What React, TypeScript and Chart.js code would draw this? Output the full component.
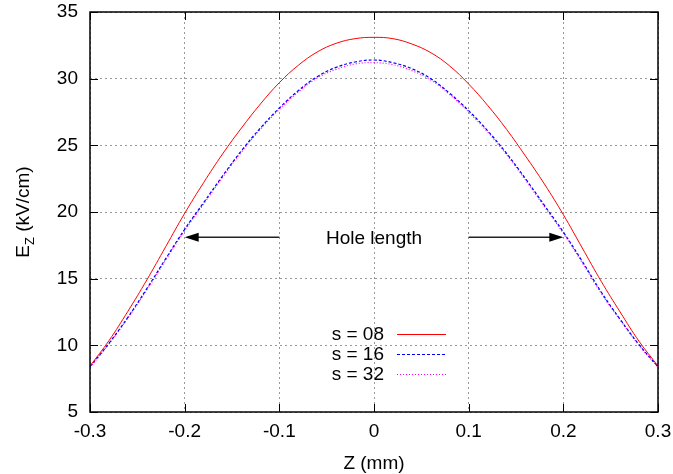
import React, { useEffect, useRef } from "react";
import { Chart, registerables } from "chart.js";

Chart.register(...registerables);

const zValues = [
  -0.3, -0.28, -0.26, -0.24, -0.22, -0.2, -0.18, -0.16, -0.14, -0.12, -0.1, -0.08, -0.06, -0.04, -0.02, 0,
  0.02, 0.04, 0.06, 0.08, 0.1, 0.12, 0.14, 0.16, 0.18, 0.2, 0.22, 0.24, 0.26, 0.28, 0.3,
];
const s08 = [
  8.45, 10.35, 12.55, 14.9, 17.4, 19.9, 22.2, 24.35, 26.3, 28.1, 29.7, 31.0, 32.0, 32.65, 33.0, 33.1,
  33.0, 32.6, 31.95, 30.95, 29.6, 28.0, 26.2, 24.2, 22.1, 19.8, 17.3, 14.8, 12.5, 10.3, 8.45,
];
const s16 = [
  8.4, 10.15, 12.1, 14.25, 16.5, 18.7, 20.7, 22.7, 24.6, 26.3, 27.8, 29.1, 30.15, 30.85, 31.25, 31.4,
  31.2, 30.75, 30.0, 28.9, 27.6, 26.1, 24.4, 22.5, 20.5, 18.5, 16.3, 14.0, 11.95, 10.05, 8.4,
];
const s32 = [
  8.35, 10.1, 12.05, 14.15, 16.4, 18.6, 20.6, 22.6, 24.5, 26.2, 27.7, 29.0, 30.05, 30.7, 31.1, 31.2,
  31.05, 30.6, 29.9, 28.8, 27.5, 26.0, 24.3, 22.4, 20.4, 18.4, 16.2, 13.9, 11.9, 10.0, 8.35,
];
const seriesLabels = ["s = 08", "s = 16", "s = 32"];
const xTicks = [-0.3, -0.2, -0.1, 0, 0.1, 0.2, 0.3];
const yTicks = [5, 10, 15, 20, 25, 30, 35];
const holeLabel = "Hole length";
const arrowY = 18.1;
const leftArrow = [-0.1, -0.2];
const rightArrow = [0.1, 0.2];
const xTitle = "Z (mm)";

const FONT = "'Liberation Sans', Arial, sans-serif";
const FS = 19;

const overlay = {
  id: "overlay",
  afterDatasetsDraw(chart: any) {
    const { ctx, chartArea: a, scales } = chart;
    const xs = scales.x;
    const ys = scales.y;
    ctx.save();
    // inner ticks
    ctx.strokeStyle = "#000";
    ctx.lineWidth = 1;
    ctx.setLineDash([]);
    ctx.beginPath();
    for (const v of yTicks) {
      const y = Math.round(ys.getPixelForValue(v)) + 0.5;
      ctx.moveTo(a.left, y);
      ctx.lineTo(a.left + 8, y);
      ctx.moveTo(a.right, y);
      ctx.lineTo(a.right - 8, y);
    }
    for (const v of xTicks) {
      const x = Math.round(xs.getPixelForValue(v)) + 0.5;
      ctx.moveTo(x, a.bottom);
      ctx.lineTo(x, a.bottom - 8);
      ctx.moveTo(x, a.top);
      ctx.lineTo(x, a.top + 8);
    }
    ctx.stroke();
    // border
    ctx.lineWidth = 1.5;
    ctx.strokeRect(a.left, a.top, a.right - a.left, a.bottom - a.top);

    // annotation
    const ay = ys.getPixelForValue(arrowY);
    ctx.fillStyle = "#000";
    ctx.font = `${FS}px ${FONT}`;
    ctx.textAlign = "center";
    ctx.textBaseline = "middle";
    ctx.fillText(holeLabel, xs.getPixelForValue(0), ay + 1);
    const drawArrow = (from: number, to: number) => {
      const x0 = xs.getPixelForValue(from);
      const x1 = xs.getPixelForValue(to);
      const dir = Math.sign(x1 - x0);
      ctx.strokeStyle = "#222";
      ctx.lineWidth = 1.5;
      ctx.beginPath();
      ctx.moveTo(x0, ay);
      ctx.lineTo(x1 - dir * 10, ay);
      ctx.stroke();
      ctx.fillStyle = "#000";
      ctx.beginPath();
      ctx.moveTo(x1, ay);
      ctx.lineTo(x1 - dir * 14, ay - 4.5);
      ctx.lineTo(x1 - dir * 14, ay + 4.5);
      ctx.closePath();
      ctx.fill();
    };
    drawArrow(leftArrow[0], leftArrow[1]);
    drawArrow(rightArrow[0], rightArrow[1]);

    // legend
    const ds = chart.data.datasets;
    const textRight = 384;
    const lineStart = 397;
    const lineEnd = 446;
    const top = 334;
    ctx.font = `${FS}px ${FONT}`;
    ctx.textAlign = "right";
    ds.forEach((d: any, i: number) => {
      const y = top + i * 20;
      ctx.fillStyle = "#000";
      ctx.fillText(d.label, textRight, y + 1);
      ctx.strokeStyle = d.borderColor;
      ctx.lineWidth = d.borderWidth;
      ctx.setLineDash(d.borderDash || []);
      ctx.beginPath();
      ctx.moveTo(lineStart, y + 0.5);
      ctx.lineTo(lineEnd, y + 0.5);
      ctx.stroke();
    });
    ctx.setLineDash([]);

    // axis titles
    ctx.fillStyle = "#000";
    ctx.textAlign = "center";
    ctx.textBaseline = "alphabetic";
    ctx.font = `${FS}px ${FONT}`;
    ctx.fillText(xTitle, (a.left + a.right) / 2, 469);

    ctx.translate(29, (a.top + a.bottom) / 2);
    ctx.rotate(-Math.PI / 2);
    const part1 = "E";
    const sub = "Z";
    const part2 = " (kV/cm)";
    ctx.font = `${FS}px ${FONT}`;
    const w1 = ctx.measureText(part1).width;
    const w3 = ctx.measureText(part2).width;
    ctx.font = `13px ${FONT}`;
    const w2 = ctx.measureText(sub).width;
    const total = w1 + w2 + w3;
    let x = -total / 2;
    ctx.textAlign = "left";
    ctx.font = `${FS}px ${FONT}`;
    ctx.fillText(part1, x, 0);
    x += w1;
    ctx.font = `13px ${FONT}`;
    ctx.fillText(sub, x, 5);
    x += w2;
    ctx.font = `${FS}px ${FONT}`;
    ctx.fillText(part2, x, 0);
    ctx.restore();
  },
};

function toPoints(vals: number[]) {
  return zValues.map((z, i) => ({ x: z, y: vals[i] }));
}

export default function App() {
  const ref = useRef<HTMLCanvasElement | null>(null);
  useEffect(() => {
    if (!ref.current) return;
    const chart = new Chart(ref.current, {
      type: "line",
      data: {
        datasets: [
          { label: seriesLabels[0], data: toPoints(s08), borderColor: "#ff0000", borderWidth: 1, pointRadius: 0, tension: 0.4, fill: false },
          { label: seriesLabels[1], data: toPoints(s16), borderColor: "#0000ff", borderWidth: 1.2, borderDash: [3, 2], pointRadius: 0, tension: 0.4, fill: false },
          { label: seriesLabels[2], data: toPoints(s32), borderColor: "#ff00ff", borderWidth: 1.2, borderDash: [1, 2], pointRadius: 0, tension: 0.4, fill: false },
        ],
      },
      options: {
        animation: false,
        responsive: false,
        maintainAspectRatio: false,
        layout: { padding: { top: 12, right: 15, left: 0, bottom: 0 } },
        plugins: { legend: { display: false }, tooltip: { enabled: false } },
        scales: {
          x: {
            type: "linear",
            min: -0.3,
            max: 0.3,
            afterBuildTicks: (s: any) => {
              s.ticks = xTicks.map((v) => ({ value: v }));
            },
            afterFit: (s: any) => {
              s.height = 62;
              s.paddingLeft = 0;
              s.paddingRight = 0;
            },
            ticks: {
              color: "#000",
              font: { family: FONT, size: FS },
              padding: 8,
              maxRotation: 0,
              callback: (v: any) => String(Number(Number(v).toFixed(1))),
            },
            grid: { color: "#999", drawTicks: false, lineWidth: 1 } as any,
            border: { display: false, dash: [2, 3] } as any,
          },
          y: {
            type: "linear",
            min: 5,
            max: 35,
            afterBuildTicks: (s: any) => {
              s.ticks = yTicks.map((v) => ({ value: v }));
            },
            afterFit: (s: any) => {
              s.width = 90;
              s.paddingTop = 0;
              s.paddingBottom = 0;
            },
            ticks: {
              color: "#000",
              font: { family: FONT, size: FS },
              padding: 12,
            },
            grid: { color: "#999", drawTicks: false, lineWidth: 1 } as any,
            border: { display: false, dash: [2, 3] } as any,
          },
        },
      } as any,
      plugins: [overlay],
    });
    return () => chart.destroy();
  }, []);
  return (
    <div style={{ position: "fixed", left: 0, top: 0, width: 673, height: 474, background: "#fff" }}>
      <canvas ref={ref} width={673} height={474} style={{ width: 673, height: 474 }} />
    </div>
  );
}
